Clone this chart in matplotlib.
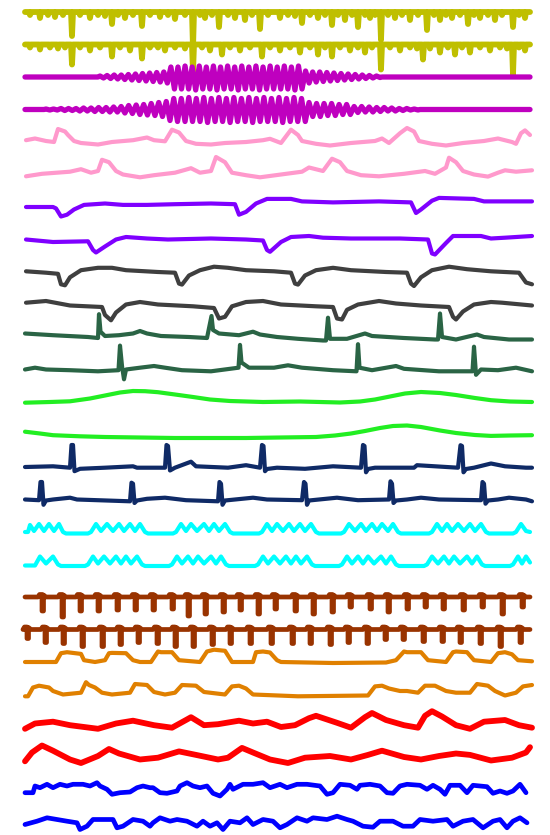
import numpy as np
import matplotlib
matplotlib.use('Agg')
import matplotlib.pyplot as plt

# time axis runs from t=25 to t=530, amplitudes in display px (up = positive)
T0, T1 = 25, 530

# --- yellow pair: downward spikes (time, depth)
yel_a_st = [30,40,48,55,63,72,80,90,98,105,112,118,125,133,142,150,160,168,175,185,193,200,205,212,219,228,235,245,252,260,268,280,288,295,302,310,318,325,332,338,345,352,358,365,370,375,381,388,395,402,410,418,427,434,440,446,452,460,468,474,480,488,495,502,513,519,525]
yel_a_sd = [3,6,3,5,3,24,3,6,3,4,12,3,6,3,14,3,5,3,7,3,36,3,6,3,15,3,6,8,3,17,3,6,3,4,11,3,6,3,13,3,8,3,15,3,6,3,28,3,6,3,8,3,18,3,8,3,6,3,12,3,6,3,8,3,15,3,6]
yel_b_st = [30,40,50,58,65,72,80,90,100,112,120,130,142,150,158,165,175,185,193,202,210,222,230,240,250,262,270,280,290,300,310,318,325,332,340,350,358,365,372,381,390,400,410,417,423,430,440,448,455,462,470,480,490,500,507,513,519,525]
yel_b_sd = [3,5,3,4,3,20,3,6,3,12,3,6,14,3,3,6,3,4,27,3,6,10,3,6,3,12,3,6,3,8,3,10,3,12,3,6,3,8,3,25,3,6,3,4,15,4,8,3,10,3,8,3,6,3,4,30,3,6]

# --- magenta pair: bursts of oscillation (extremum values)
mag_a_span = (100, 380)
mag_a_osc = [1,-1,1.5,-1.5,2,-2,2,-2.5,2.5,-3,
             3,-3.5,3.5,-4,4,-4.5,4.5,-5,5,-6,
             10,-12,10,-12,11,-12,10,-13,11,-12,
             10,-12,11,-13,10,-12,11,-12,10,-13,
             11,-12,10,-12,11,-13,10,-12,11,-12,
             10,-12,11,-12,10,-13,11,-12,
             6,-6,5,-5,5,-4.5,4.5,-4,4,-3.5,3.5,-3,
             3,-2.5,2.5,-2,2,-1.5,1.5,-1,1,-0.5]
mag_b_span = (46, 418)
mag_b_osc = [0.5,-0.5,0.5,-0.5,1,-1,1,-1,1,-1.5,1.5,-1.5,1.5,-2,2,-2,2,-2.5,2.5,-2.5,
             3,-3.5,4,-4,4.5,-5,5,-5.5,6,-6,7,-7,8,
             -11,11,-12,11,-12,12,-12,11,-12,12,-13,11,-12,12,-12,11,-13,12,-12,11,-12,12,-13,11,-12,12,-12,11,-12,12,-13,11,-12,12,-12,11,-12,
             7,-7,6,-7,6,-6,6,-6,5,-5,5,-5,
             3,-3,3,-2.5,2.5,-2.5,2,-2,2,-1.5,1.5,-1.5,1,-1,1,-0.5,0.5,-0.5]

# --- pink pair
pink_a_t = [26,35,46,54,58,65,68,74,81,98,112,133,147,154,165,172,179,186,196,211,225,246,263,270,281,291,298,302,316,330,351,375,382,389,400,407,414,419,432,446,463,484,498,512,516,521,525,530]
pink_a_v = [1.8,3.5,1,0,13,10.5,7,1,-1,-2.5,0,1.8,4.5,1.8,0.7,12.3,9.5,1,-1.8,-2.5,-1,0,1.8,3.2,-1,12.3,7,1,-1.8,-3.5,-1,1,3.5,-1,8.8,14,10.5,1,-1.8,-3.5,-1,1,3.5,0,-1.8,8.8,11.6,7]
pink_b_t = [26,42,70,81,91,98,102,109,116,123,140,154,175,191,200,211,216,225,232,246,260,281,302,309,323,332,340,347,361,379,404,425,435,446,449,456,463,474,488,498,505,516,532]
pink_b_v = [-1.8,0.7,2.8,5.3,1.8,3.5,14.7,12.3,3.5,0,-2.8,-0.7,1.8,6.3,1.8,3.5,17.5,12.3,1.8,-0.7,-2.8,0,2.8,7,3.5,15.8,12.3,3.5,-0.7,-1.8,0.7,3.5,0.7,7,16.8,12.3,3.5,0,-2.1,1.8,4.2,2.8,4.2]

# --- purple pair
purp_a_t = [26,53,56,61,67,74,84,105,123,147,175,211,235,239,246,256,267,291,302,333,379,411,416,421,432,439,474,484,532]
purp_a_v = [0,0,-1.4,-9.5,-7.7,-2.5,2.1,3.5,2.1,2.1,2.8,3.5,2.8,-7.7,-4.9,3.5,8.1,8.1,5.6,4.6,5.6,4.6,-6.0,-2.5,6.3,9.1,8.1,5.6,5.6]
purp_b_t = [26,53,88,93,96,105,116,126,147,168,211,246,263,267,270,281,291,309,323,351,400,428,432,435,446,453,481,491,505,532]
purp_b_v = [0,-2.5,-1.8,-10.5,-13,-7,0,2.5,1,0,1,0,-1,-10.5,-12.3,-2.5,2.5,3.5,1.8,1,1,0,-14,-15,-3.5,3.5,3.5,1,1.8,3.5]

# --- dark grey pair
grey_a_t = [26,46,58,61,65,70,81,98,112,126,158,175,179,182,189,200,214,228,246,274,291,295,298,305,316,333,351,386,407,411,414,421,432,449,467,491,519,526,532]
grey_a_v = [0.7,-0.7,-1.8,-12.3,-13.3,-5.3,1.8,4.2,4.2,1.8,0,-0.7,-11.6,-12.6,-3.5,1.8,5.3,4.2,1.8,0.7,-0.7,-11.6,-12.6,-3.5,1.8,4.2,1.8,0,-0.7,-11.6,-14,-5.3,1.8,5.3,2.8,0.7,-0.7,-10.5,-12.3]
grey_b_t = [26,46,70,102,105,111,116,126,140,158,193,214,219,225,232,246,263,281,316,333,337,342,347,358,379,396,421,449,453,456,463,474,491,502,532]
grey_b_v = [1.8,3.5,-1,-2.5,-10.5,-15.8,-8,0,2.5,0,-1.8,-3.5,-14,-12.3,-1.8,2.5,3.5,0,-1.8,-2.5,-14,-15,-5.3,0,3.5,1,-1,-2.5,-12.3,-15,-7,0,2.5,1.8,-1]

# --- dark green pair
dgrn_a_t = [25,53,88,98,99,100.5,105,119,133,140,147,161,189,207,211.5,213,219,239,253,260,277,298,323,326,328,330,347,365,372,404,435,438,440,442,456,477,484,509,532]
dgrn_a_v = [3.5,1.8,0,-1,22.8,5.3,1,1.8,3.5,6,3.5,1,0,-1,21,7,3.5,1.8,5.3,2.5,0,-1.8,-3.5,-3.5,19.3,-1.8,-1.8,3.5,1,-1,-2.5,-2.5,23.5,0,-2.5,2.5,0,-2.5,-2.5]
dgrn_b_t = [25,35,46,70,98,118.5,120,122,124,126,140,154,165,182,211,238.5,240,241.5,249,274,288,302,333,356.5,358,359.5,372,396,404,439,472.5,474,476,481,498,516,532]
dgrn_b_v = [0,1.8,0,-0.7,-1.8,-0.7,23.9,3.5,-9.8,0,1.8,3.5,1.8,-0.7,-1.8,1.8,24.6,7,1.8,1.8,4.2,1.8,-0.7,-1.8,25.3,1.8,-0.7,3.5,0.7,-1.8,-1.8,22.8,-5.3,0,-0.7,1.8,-1.8]

# --- bright green pair (slow humps)
lgrn_a_t = [25,50,70,90,105,120,133,145,158,175,193,210,230,263,300,340,360,375,390,405,421,440,456,475,491,510,532]
lgrn_a_v = [-0.7,0,0.7,3.5,6.5,9.5,11,10.8,9.8,7.5,5,2.5,1,0,0.5,-0.5,0.5,2.5,5.5,8.5,10,9,7,4,1.8,0.5,0]
lgrn_b_t = [25,40,53,80,105,140,175,210,246,280,316,335,351,365,380,393,407,421,440,456,475,491,510,532]
lgrn_b_v = [2.8,1,-0.7,-1.8,-2.5,-3,-3.5,-3.5,-3.5,-3,-2.5,-1,1,3.5,6.5,8.5,9,7.5,4,1.5,-0.5,-1.4,-1,-0.7]

# --- navy pair (ECG like)
navy_a_t = [25,53,70,71.5,73,74.5,80,105,133,137,161,165,166.5,168,170,175,191,196,228,246,260,262,263.5,265,267,277,305,333,361,363,364.5,366,368,375,414,417,458,460.5,462,463.5,466,474,491,505,526,532]
navy_a_v = [0,0.7,-0.7,22,22,-4.2,-1.8,-0.7,0.7,-0.7,-0.7,-0.7,22,21,-3.5,-0.7,5.3,0.7,-0.7,1.8,-0.7,22,21,-4.2,-2,-0.7,-1.8,0.7,-0.7,22,21,-5.3,-2,-0.7,-0.7,1.8,-0.7,21.8,21,-5.3,-2,-0.7,3.5,0.7,-0.7,-0.7]
navy_b_t = [25,39,40.5,42,43.5,46,53,70,77,130,131.5,133,134.5,137,147,165,186,218,219.5,221,222.5,225,235,253,267,302,304,305.5,307,309,319,337,358,389,390.5,392,393.5,396,407,421,439,481,482.5,484,485.5,488,498,509,526,532]
navy_b_v = [0,-0.7,17.5,17.5,-5.3,-1,0,1.8,0,-1.8,16.8,15.8,-3.5,-1,0.7,1.8,-0.7,-1.8,17.5,15.8,-5.3,-1,0,1.8,0,-0.7,17.5,15.8,-5.3,-1,0,1.8,-0.7,0,18.2,15.8,-3.5,-1,0,1.8,0,-0.7,17.5,15.8,-4.2,-1,0,1.8,0,-1.8]

# --- cyan pair (bursts of bumps)
cyan_a_t = [25,28,30,34,39,44,49,54,59,63,66,88,
            91,96,101,107,113,119,124,130,135,140,145,148,173,
            176,181,186,191,197,204,209,214,219,225,230,233,259,
            262,267,272,277,283,289,294,300,305,311,316,319,341,
            344,349,355,361,366,372,377,382,388,393,398,401,429,
            432,437,442,447,452,458,464,470,475,481,486,489,513,
            516,521,526,530]
cyan_a_v = [0,0,7,1,8,1,8,1,8,0,-1.5,-1.5,
            0,8,1,8,1,8,1,8,1,8,0,-1.5,-1.5,
            0,8,1,8,1,8,1,8,1,8,0,-1.5,-1.5,
            0,8,1,8,1,8,1,8,1,8,0,-1.5,-1.5,
            0,8,1,8,1,8,1,8,1,8,0,-1.5,-1.5,
            0,8,1,8,1,8,1,8,1,8,0,-1.5,-1.5,
            0,8,1,0]
cyan_b_t = [25,35,40,46,53,58,61,85,
            88,93,98,104,110,116,121,126,131,137,142,145,169,
            172,177,182,188,193,198,204,211,216,221,226,229,255,
            258,263,268,274,280,286,291,296,301,307,312,315,339,
            342,347,352,358,363,368,374,381,386,391,396,399,424,
            427,432,438,444,449,454,460,467,472,477,482,485,510,
            513,518,522,526,530]
cyan_b_v = [-1,-1,8,1,8,0,-1.5,-1.5,
            0,8,1,8,1,8,1,8,1,8,0,-1.5,-1.5,
            0,8,1,8,1,8,1,8,1,8,0,-1.5,-1.5,
            0,8,1,8,1,8,1,8,1,8,0,-1.5,-1.5,
            0,8,1,8,1,8,1,8,1,8,0,-1.5,-1.5,
            0,8,1,8,1,8,1,8,1,8,0,-1.5,-1.5,
            0,8,1,8,2]

# --- brown pair: comb teeth (time, depth)
brown_a_tt = [42,62,80,98,117,135,153,172,188,205,223,240,258,275,295,313,332,350,370,388,407,425,443,463,482,502,522]
brown_a_td = [14,20,14,14,13,13,13,12,19,17,15,13,17,12,14,17,15,10,12,15,12,10,12,13,10,17,10]
brown_b_tt = [27,45,63,82,102,120,138,157,175,193,212,230,250,271,292,310,330,348,367,385,403,423,442,460,480,500,520]
brown_b_td = [9,13,14,17,17,15,13,14,17,17,15,14,14,14,14,14,15,13,14,10,10,12,12,13,14,17,13]

# --- orange pair (plateaus)
orng_a_t = [25,56,61,67,81,84,95,105,109,112,126,133,140,151,158,161,172,179,200,207,214,225,232,253,256,263,270,277,281,333,386,396,404,407,421,428,446,453,456,467,474,491,498,505,512,518,532]
orng_a_v = [0,0,8.8,9.8,8.1,1.8,0,1.8,8.8,9.1,8.8,1.8,0,0,10.5,9.8,9.8,1.8,0,10.5,12.3,11.2,0,0,9.8,10.5,9.5,1.8,0,-1,-0.5,1.8,10.5,9.8,9.8,1.8,0,9.8,10.5,9.8,1.8,0,8.8,9.8,7.7,1.8,0.7]
orng_b_t = [25,28,33,39,49,53,63,81,86,89,95,102,112,130,135,147,154,165,175,182,196,204,225,232,239,246,253,298,368,375,382,389,400,407,418,425,435,446,456,470,477,488,495,505,516,523,532]
orng_b_v = [-1.8,-1.8,7,8.8,7,3.5,0,1.8,12.3,9.5,7,1.8,0,1.8,10.5,9.5,2.5,0,1.8,9.5,8.8,2.5,0,8.1,8.8,6,0,-1.8,-1,8.1,8.8,6,3.5,3.5,1.8,8.8,8.8,3.5,1.8,1.8,10.5,8.8,3.5,-1,1.8,8.1,9.5]

# --- red pair
red_a_t = [25,35,53,70,98,116,133,154,172,186,191,204,218,239,253,267,281,295,309,316,337,351,365,372,386,404,418,425,432,442,456,470,484,505,519,532]
red_a_v = [-1.8,3.5,5.3,1.8,-1.8,3.5,6.3,1.8,-0.7,7,9.8,1.8,2.8,6.3,3.5,5.3,0,1.8,8.8,11.2,4.2,-0.7,9.8,14,7,1.8,-0.7,11.2,15.8,10.5,1.8,-1.8,5.3,7,1.8,-0.7]
red_b_t = [25,32,42,53,70,81,98,109,119,140,158,179,196,218,228,242,253,270,288,305,330,351,368,382,404,421,439,456,470,491,512,526,530]
red_b_v = [-1.8,7,14,8.8,0,-3.5,3.5,10.5,6,0,1.8,8.1,4.6,0,1.8,11.6,7,0,-3.5,1.8,3.5,0,4.6,8.8,2.5,0,3.5,6,4.6,-1,1.8,7,12.3]

# --- blue pair (noisy square wave)
blue_a_t = [25,33,35,40,47,53,60,67,73,83,90,97,100,107,112,120,130,137,143,150,153,160,167,177,180,187,193,200,207,213,220,227,230,233,243,253,263,270,280,287,297,307,320,327,333,340,350,357,360,370,380,387,393,400,407,420,427,433,440,445,450,460,467,473,487,493,500,507,513,520,526]
blue_a_v = [-0.7,-0.7,6,4.3,7.7,4.3,7.7,6,7.7,7.7,6,9.3,6,2.7,-2.3,-0.7,0,4.3,6,4.3,4.3,-0.7,-1.3,1,6,9.3,6,4.3,6,-1.3,-4,2.7,7.7,2.7,7.7,7.7,9.3,4.3,7.7,4.3,7.7,7.7,6,-2.3,-0.7,7.7,6.7,2.7,6.7,7.7,6,-0.7,-1.3,6,7.7,6.7,2.7,6.7,2.7,-2.3,6.7,6.7,-0.7,6.7,5.3,-1.3,1,-1.3,1,7.7,-0.7]
blue_b_t = [25,37,47,57,67,77,80,87,93,103,113,117,123,133,143,150,153,160,170,177,187,197,203,210,217,223,230,240,247,253,263,273,280,287,297,307,313,327,337,347,353,363,373,380,393,403,413,420,433,447,453,463,473,483,493,500,507,513,520,527]
blue_b_v = [0,3.3,6.7,5,3.3,1.7,-5,-1.7,5,5,5,-3.3,-1.7,5,3.3,-1.7,1.7,6.7,3.3,5,3.3,-1.7,3.3,-1.7,1.7,-5,3.3,1.7,6.7,0,5,3.3,-3.3,0,6.7,3.3,6.7,5,8.3,5,3.3,-1.7,-2.7,3.3,3.3,-1.7,-1.7,5,3.3,5,-1.7,3.3,5,-3.3,3.3,5,-3.3,3.3,6.7,1.7]


def with_spikes(st, sd, half=1.0):
    t, v = [T0], [0]
    for s, d in zip(st, sd):
        t += [s - half, s, s + half]
        v += [0, -d, 0]
    return t + [T1], v + [0]


def with_teeth(tt, td):
    t, v = [T0], [0]
    for s, d in zip(tt, td):
        t += [s - 4, s - 2.5, s, s, s + 1.5, s + 1.5, s + 4]
        v += [0, 2.5, 2.5, -d, -d, 2, 0]
    return t + [T1], v + [0]


def with_burst(span, osc):
    t = [T0, span[0] - 2] + list(np.linspace(span[0], span[1], len(osc))) + [span[1] + 2, T1]
    v = [0, 0] + list(osc) + [0, 0]
    return t, v


ya = with_spikes(yel_a_st, yel_a_sd)
yb = with_spikes(yel_b_st, yel_b_sd)
ma = with_burst(mag_a_span, mag_a_osc)
mb = with_burst(mag_b_span, mag_b_osc)
ba = with_teeth(brown_a_tt, brown_a_td)
bb = with_teeth(brown_b_tt, brown_b_td)

rows = [
    (ya[0], ya[1], '#bfbf00', 4.2),
    (yb[0], yb[1], '#bfbf00', 4.2),
    (ma[0], ma[1], '#bf00bf', 3.8),
    (mb[0], mb[1], '#bf00bf', 3.8),
    (pink_a_t, pink_a_v, '#ff99cc', 3.0),
    (pink_b_t, pink_b_v, '#ff99cc', 3.0),
    (purp_a_t, purp_a_v, '#7f00ff', 3.0),
    (purp_b_t, purp_b_v, '#7f00ff', 3.0),
    (grey_a_t, grey_a_v, '#3f3f3f', 3.0),
    (grey_b_t, grey_b_v, '#3f3f3f', 3.0),
    (dgrn_a_t, dgrn_a_v, '#2a6445', 3.0),
    (dgrn_b_t, dgrn_b_v, '#2a6445', 3.0),
    (lgrn_a_t, lgrn_a_v, '#22ee22', 3.0),
    (lgrn_b_t, lgrn_b_v, '#22ee22', 3.0),
    (navy_a_t, navy_a_v, '#0f2a66', 3.0),
    (navy_b_t, navy_b_v, '#0f2a66', 3.0),
    (cyan_a_t, cyan_a_v, '#00ffff', 3.0),
    (cyan_b_t, cyan_b_v, '#00ffff', 3.0),
    (ba[0], ba[1], '#993300', 3.4),
    (bb[0], bb[1], '#993300', 3.4),
    (orng_a_t, orng_a_v, '#e08000', 3.0),
    (orng_b_t, orng_b_v, '#e08000', 3.0),
    (red_a_t, red_a_v, '#ff0000', 4.2),
    (red_b_t, red_b_v, '#ff0000', 4.2),
    (blue_a_t, blue_a_v, '#0000ff', 3.4),
    (blue_b_t, blue_b_v, '#0000ff', 3.4),
]

fig = plt.figure(figsize=(5.5, 8.35), dpi=100)
ax = fig.add_axes([0, 0, 1, 1])
for i, (t, v, c, lw) in enumerate(rows):
    base = 12 + 32.5 * i
    ax.plot(t, base - np.asarray(v), color=c, lw=lw,
            solid_joinstyle='round', solid_capstyle='round')
ax.set_xlim(0, 550)
ax.set_ylim(835, 0)
ax.axis('off')
fig.savefig('out.png', dpi=100, facecolor='white')
